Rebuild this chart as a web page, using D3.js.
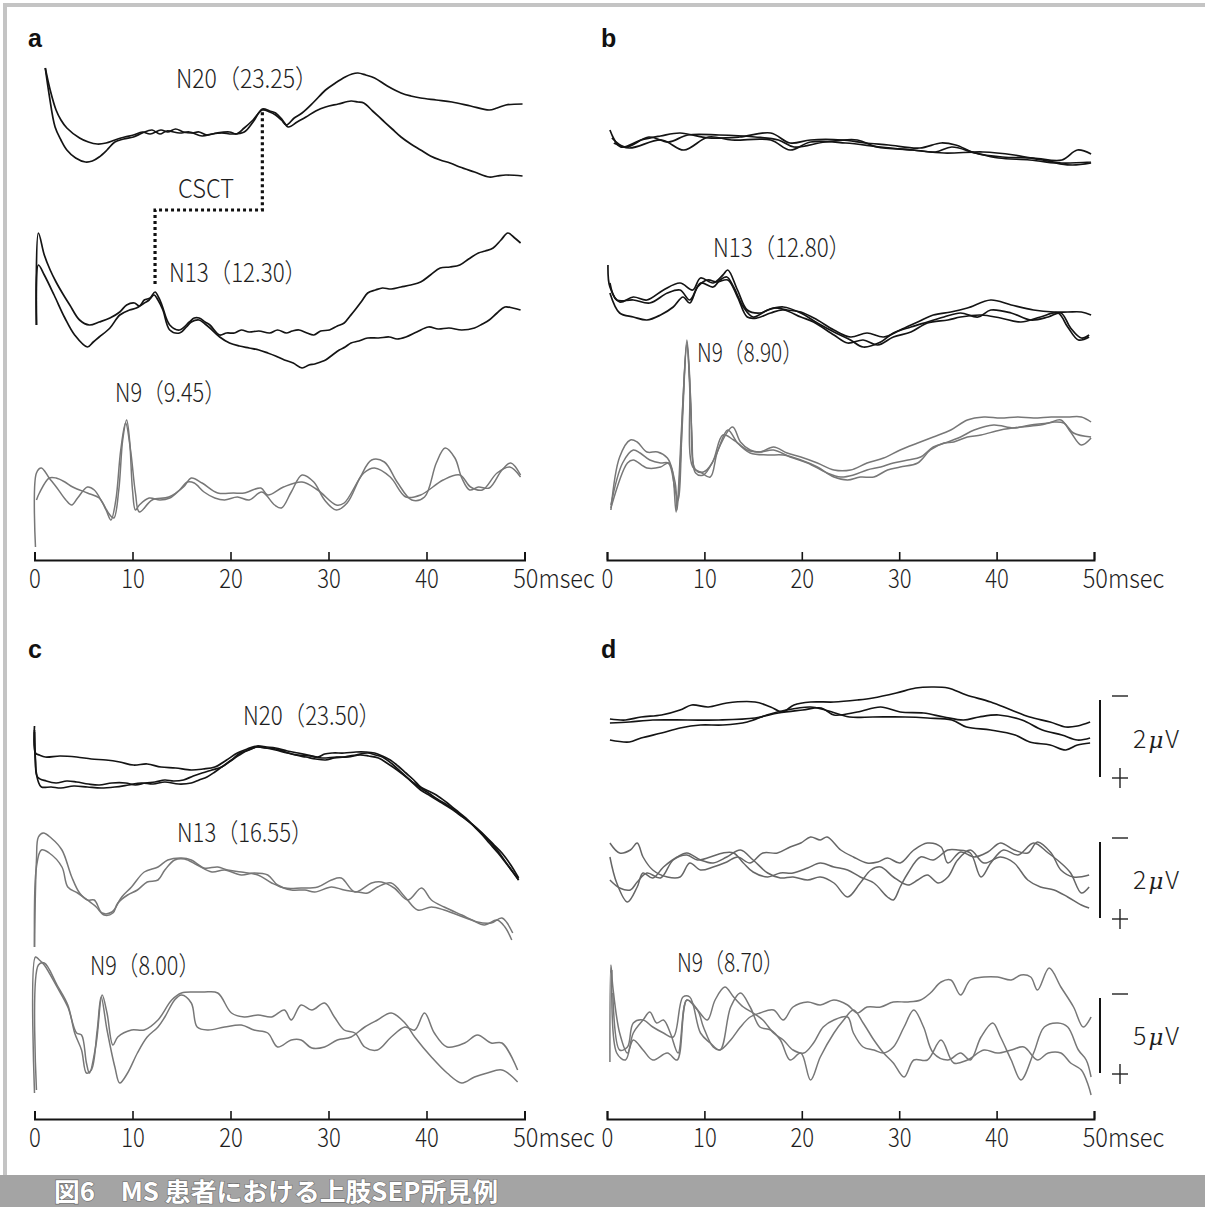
<!DOCTYPE html>
<html>
<head>
<meta charset="utf-8">
<script src="https://cdn.jsdelivr.net/npm/d3@7"></script>
<style>
  body { margin: 0; background: #fff; }
</style>
</head>
<body>
<svg id="fig" width="1205" height="1207"></svg>
<script>
// time axis (msec)
const ticks = [0, 10, 20, 30, 40, 50];
const unitLabel = "msec";

// every trace: [ms, amplitude(a.u., negative polarity up)]
// --- panel a ---
const a_N20_1 = [[1.1,52],[1.6,30],[2.2,10],[2.7,0],[3.3,-8],[4.6,-18],[5.5,-22],[6.4,-24],[7.3,-23],[8.2,-20],[9.2,-17],[10.1,-15],[11.0,-12],[11.8,-14],[12.9,-10],[13.6,-12],[14.4,-9],[15.2,-12],[16.0,-13],[16.8,-12],[17.6,-15],[18.6,-13],[19.9,-12],[20.6,-14],[21.4,-8],[22.3,0],[23.25,10],[24.0,8],[24.6,5],[25.2,0],[25.7,-5],[26.5,2],[27.3,7],[28.5,18],[29.7,30],[30.7,37],[31.7,43],[32.4,46],[33.0,47],[33.8,45],[34.7,42],[36.0,34],[37.4,27],[38.4,24],[39.4,22],[41.0,20],[42.6,18],[44.5,14],[46.4,10],[47.2,12],[48.1,15],[49.8,16]];
const a_N20_2 = [[1.1,52],[1.5,25],[2.1,-7],[2.7,-20],[3.3,-30],[4.2,-38],[5.2,-42],[5.9,-41],[6.6,-37],[7.4,-30],[8.2,-22],[9.1,-19],[10.1,-17],[11.0,-13],[12.0,-10],[12.8,-14],[13.5,-11],[14.8,-13],[15.8,-12],[17.1,-16],[18.1,-14],[19.1,-13],[20.2,-14],[21.4,-12],[22.3,-2],[23.25,11],[24.0,9],[24.6,7],[25.3,0],[25.9,-7],[26.8,-2],[27.7,3],[28.7,9],[29.7,13],[31.0,16],[32.3,19],[33.0,18],[33.6,17],[34.5,9],[35.5,0],[36.5,-9],[37.4,-17],[38.4,-24],[39.4,-30],[40.4,-36],[41.4,-40],[42.4,-43],[43.4,-47],[44.9,-52],[46.4,-57],[47.2,-56],[48.1,-55],[49.8,-56]];
const a_N13_1 = [[0.2,-25],[0.4,67],[1.0,45],[1.6,30],[2.2,18],[2.9,6],[3.6,-5],[4.6,-20],[5.6,-25],[6.6,-22],[7.7,-18],[8.7,-12],[9.4,-5],[10.2,-3],[10.7,-6],[11.2,0],[11.8,2],[12.3,8],[12.7,2],[13.0,-5],[13.8,-25],[14.8,-30],[15.8,-22],[16.3,-18],[16.8,-18],[17.4,-22],[17.9,-25],[18.9,-35],[19.6,-33],[20.4,-33],[21.1,-30],[21.9,-32],[22.9,-31],[24.0,-33],[24.8,-30],[25.7,-33],[26.3,-31],[27.0,-30],[27.8,-33],[28.5,-35],[29.2,-31],[30.1,-30],[30.9,-26],[31.6,-23],[32.2,-16],[32.7,-10],[33.4,-1],[34.0,7],[34.8,10],[35.5,12],[36.4,11],[37.4,13],[38.4,15],[39.4,18],[40.4,25],[41.4,32],[42.4,33],[43.4,35],[44.3,41],[45.3,47],[46.0,49],[46.8,52],[47.6,60],[48.3,67],[49.0,62],[49.6,57]];
const a_N13_2 = [[0.2,-25],[0.4,35],[1.0,25],[2.0,5],[3.1,-18],[4.1,-35],[5.4,-47],[6.0,-42],[6.6,-37],[7.7,-28],[8.7,-15],[9.7,-10],[10.4,-8],[11.2,-3],[11.7,0],[12.2,5],[12.6,0],[13.1,-10],[13.8,-30],[14.8,-33],[15.5,-27],[16.0,-22],[16.8,-20],[17.4,-24],[17.9,-28],[18.9,-37],[19.9,-43],[20.9,-46],[21.9,-48],[22.9,-50],[23.8,-53],[24.6,-56],[25.5,-60],[26.4,-63],[27.3,-68],[28.0,-65],[28.6,-64],[29.2,-62],[29.7,-60],[30.4,-55],[31.1,-50],[31.7,-47],[32.3,-43],[33.1,-41],[34.0,-38],[35.1,-38],[36.2,-37],[37.0,-39],[37.9,-37],[39.0,-32],[40.2,-27],[41.2,-29],[42.3,-28],[43.6,-30],[44.9,-28],[45.7,-24],[46.4,-20],[47.2,-13],[48.0,-7],[48.8,-8],[49.6,-10]];
const a_N9_1 = [[0.1,-57],[0.2,17],[0.7,22],[1.5,12],[2.3,2],[3.2,-10],[3.8,-15],[4.4,-8],[5.4,3],[6.1,0],[6.9,-12],[7.7,-25],[8.1,-28],[8.6,0],[9.0,50],[9.4,70],[9.7,50],[10.0,0],[10.3,-20],[10.7,-15],[11.7,-8],[12.8,-10],[13.8,-8],[14.8,0],[15.6,8],[16.3,7],[17.3,-2],[18.4,-8],[19.4,-10],[20.7,-7],[21.9,-10],[23.2,-2],[24.5,-15],[25.2,-18],[26.2,-2],[27.3,15],[28.5,8],[29.6,-10],[30.8,-20],[31.9,-13],[33.2,12],[34.4,30],[35.7,28],[37.0,8],[38.5,-10],[39.8,-7],[41.0,27],[41.9,42],[42.9,32],[43.6,12],[44.4,0],[45.3,3],[46.4,2],[47.7,20],[48.6,27],[49.6,15]];
const a_N9_2 = [[0.2,-10],[0.5,-3],[1.5,12],[2.2,12],[3.1,8],[3.9,3],[5.4,-3],[6.6,-8],[7.3,-20],[7.8,-30],[8.3,-10],[8.8,40],[9.3,67],[9.8,40],[10.3,-3],[10.7,-22],[12.0,-10],[13.7,-7],[15.2,3],[16.0,12],[17.1,7],[18.7,-3],[20.3,-3],[21.4,-3],[23.1,2],[23.8,-5],[25.4,3],[27.3,8],[28.9,0],[30.8,-15],[31.6,-13],[33.6,17],[34.7,22],[36.3,13],[37.9,-7],[39.4,-5],[41.7,10],[43.4,15],[44.5,3],[45.7,0],[47.2,17],[48.5,23],[49.6,13]];

// --- panel b ---
const b_top_1 = [[0.3,15],[1.4,-2],[3.5,5],[5.5,9],[7.5,12],[10.4,7],[13.6,8],[16.8,12],[18.8,2],[20.9,5],[24.1,5],[26.5,2],[28.9,0],[32.1,-3],[34.3,2],[35.8,0],[37.8,-8],[40.6,-12],[43.8,-13],[46.7,-15],[48.3,-5],[49.7,-9]];
const b_top_2 = [[0.5,7],[1.9,-2],[4.3,8],[6.3,3],[8.3,10],[11.5,10],[15.2,8],[17.6,5],[19.2,-2],[22.4,3],[25.7,5],[27.7,-2],[31.4,-5],[34.6,-8],[38.6,-7],[41.8,-10],[44.7,-15],[46.7,-18],[49.7,-17]];
const b_top_3 = [[0.7,2],[2.3,-3],[5.6,5],[7.9,-5],[10.4,8],[12.8,5],[16.8,5],[18.8,-5],[20.9,3],[24.5,2],[28.1,-2],[31.4,-5],[33.7,-7],[35.4,-2],[37.8,-8],[40.2,-13],[43.4,-15],[45.9,-18],[47.8,-20],[49.7,-18]];
const b_N13_1 = [[0.1,45],[0.3,23],[1.3,8],[2.7,13],[4.1,10],[5.8,20],[7.5,27],[8.8,20],[9.6,32],[10.9,27],[11.9,35],[12.4,40],[13.4,20],[14.4,0],[15.7,-3],[17.1,2],[18.5,0],[19.9,-2],[21.6,-10],[23.3,-20],[25.0,-27],[26.7,-23],[28.4,-27],[30.1,-20],[31.9,-12],[33.5,-5],[35.3,-2],[37.0,2],[39.4,10],[41.5,5],[43.8,0],[45.9,-2],[47.3,-2],[48.7,-2],[49.7,-5]];
const b_N13_2 = [[0.3,27],[1.0,10],[2.7,10],[4.4,7],[6.2,17],[7.5,20],[8.5,10],[9.6,27],[10.9,23],[11.6,30],[12.3,33],[13.0,23],[14.0,3],[15.0,-7],[16.5,0],[18.1,3],[19.9,-3],[21.6,-13],[23.3,-22],[25.0,-30],[26.3,-37],[28.1,-32],[29.4,-23],[31.2,-17],[32.9,-12],[34.6,-7],[36.3,-3],[38.1,-7],[39.4,0],[41.5,-3],[43.5,-10],[45.3,-7],[46.6,-3],[47.6,-18],[48.7,-28],[49.5,-25]];
const b_N13_3 = [[0.3,17],[1.3,-3],[2.7,-7],[4.1,-10],[5.5,-5],[6.8,3],[7.8,13],[8.5,7],[9.3,23],[10.3,30],[11.3,28],[12.4,30],[13.4,13],[14.4,-7],[15.4,-8],[16.8,-3],[18.1,0],[19.9,-7],[21.2,-12],[23.3,-25],[24.7,-33],[26.3,-30],[27.8,-35],[29.4,-27],[31.2,-22],[32.9,-13],[35.0,-10],[36.3,-7],[38.4,-5],[40.4,-8],[42.5,-12],[44.5,-7],[46.3,-3],[47.3,-17],[48.4,-30],[49.5,-27]];
const b_N9_1 = [[0.4,-50],[1.3,3],[2.4,20],[3.1,18],[4.1,8],[5.2,8],[6.2,2],[6.7,-10],[7.1,-52],[7.7,40],[8.2,120],[8.5,80],[8.8,-7],[9.6,-12],[10.6,-17],[11.4,10],[12.9,33],[13.7,18],[14.7,10],[15.7,8],[17.1,13],[18.5,7],[19.9,3],[21.6,-3],[23.3,-10],[25.0,-10],[26.7,-3],[28.4,2],[30.1,10],[31.9,17],[33.5,23],[35.3,30],[37.0,40],[38.7,43],[40.4,42],[42.2,43],[43.8,42],[45.6,43],[47.3,43],[48.7,43],[49.7,38]];
const b_N9_2 = [[0.4,-45],[1.6,-3],[2.7,10],[3.4,7],[4.4,0],[5.5,-3],[6.3,-3],[7.0,-30],[7.3,-40],[7.8,60],[8.2,115],[8.6,60],[9.1,-10],[9.9,-12],[10.8,-3],[11.9,25],[13.0,20],[14.4,10],[15.7,8],[17.1,10],[18.8,3],[20.6,-3],[22.6,-13],[24.0,-17],[25.3,-15],[26.7,-10],[28.1,-7],[29.4,-3],[30.9,0],[32.2,3],[33.5,13],[35.0,18],[36.3,23],[37.7,30],[39.7,35],[41.8,32],[43.5,35],[45.3,37],[46.6,40],[47.6,28],[48.7,15],[49.7,22]];
const b_N9_3 = [[0.4,-48],[2.1,-3],[2.7,0],[4.1,-8],[5.5,-7],[6.3,-3],[7.0,-23],[7.2,-50],[7.7,30],[8.2,118],[8.7,30],[9.1,-13],[9.9,-15],[11.1,3],[12.4,30],[13.4,17],[14.7,7],[16.5,5],[18.1,5],[19.9,0],[21.6,-7],[23.3,-17],[24.7,-20],[26.0,-17],[27.4,-17],[28.8,-10],[30.1,-7],[31.9,-3],[33.2,10],[34.6,17],[35.6,18],[37.0,23],[38.4,25],[40.4,30],[42.5,33],[44.5,35],[45.9,38],[46.9,37],[47.9,27],[49.7,23]];

// --- panel c ---
const c_N20_1 = [[0.0,44],[0.1,17],[0.5,15],[1.1,13],[2.6,14],[4.3,13],[5.8,11],[7.3,10],[8.7,8],[10.1,5],[11.5,6],[12.9,3],[14.4,2],[16.0,0],[17.2,1],[18.4,3],[19.6,10],[20.7,17],[21.7,21],[22.7,24],[23.7,23],[24.6,22],[25.8,19],[26.9,17],[27.9,15],[28.9,13],[29.6,16],[30.4,17],[31.6,17],[32.8,18],[33.8,18],[34.7,17],[35.5,14],[36.3,10],[37.1,4],[37.9,-3],[38.7,-10],[39.4,-17],[40.2,-21],[41.0,-25],[42.0,-32],[43.0,-40],[44.0,-48],[44.9,-57],[45.7,-65],[46.4,-73],[47.3,-83],[48.1,-93],[48.8,-102],[49.4,-110]];
const c_N20_2 = [[0.0,40],[0.1,10],[0.3,-7],[1.2,-11],[2.2,-13],[3.3,-11],[4.3,-12],[5.5,-14],[6.6,-15],[7.9,-13],[9.3,-13],[10.3,-15],[11.3,-13],[12.3,-12],[13.3,-10],[14.2,-11],[15.2,-10],[16.2,-6],[17.1,-3],[18.1,0],[19.1,3],[20.0,9],[20.9,15],[21.8,20],[22.7,23],[23.6,22],[24.6,20],[25.8,17],[26.9,15],[28.1,14],[29.3,12],[30.8,13],[32.0,13],[33.2,15],[34.1,14],[35.1,12],[36.1,6],[37.0,0],[37.8,-6],[38.7,-13],[39.4,-18],[40.2,-23],[41.1,-29],[42.1,-35],[43.1,-42],[44.1,-50],[45.1,-58],[46.1,-67],[46.9,-75],[47.7,-83],[48.6,-95],[49.4,-108]];
const c_N20_3 = [[0.0,38],[0.15,0],[0.4,-12],[0.7,-17],[1.7,-17],[2.7,-18],[4.0,-16],[5.4,-17],[6.8,-18],[8.2,-17],[9.6,-15],[10.9,-13],[12.1,-14],[13.3,-12],[14.7,-14],[16.0,-13],[16.8,-10],[17.6,-7],[18.4,-2],[19.1,3],[20.1,10],[21.0,17],[21.9,20],[22.7,23],[23.6,22],[24.6,21],[25.6,18],[26.6,15],[27.7,13],[28.7,11],[29.7,10],[30.6,12],[31.6,13],[32.8,15],[34.0,17],[34.8,15],[35.5,13],[36.5,6],[37.4,-2],[38.4,-11],[39.4,-20],[40.4,-26],[41.4,-32],[42.4,-38],[43.4,-45],[44.4,-52],[45.3,-60],[46.3,-70],[47.2,-80],[48.3,-95],[49.4,-110]];
const c_N13_1 = [[0.0,-67],[0.2,20],[0.4,43],[0.9,47],[1.7,42],[2.8,30],[3.8,3],[4.6,-13],[5.4,-20],[6.1,-20],[6.9,-33],[7.9,-32],[8.9,-17],[9.9,-7],[11.2,8],[12.6,13],[13.6,20],[15.0,22],[16.0,20],[17.3,12],[18.7,13],[19.7,10],[21.1,8],[22.8,5],[24.2,-3],[25.5,-8],[27.2,-8],[28.9,-7],[30.3,0],[31.3,2],[32.7,-12],[34.4,-3],[35.4,-2],[36.7,-8],[38.1,-20],[39.5,-8],[40.5,-20],[41.8,-27],[43.6,-35],[45.2,-42],[46.6,-43],[47.7,-38],[48.8,-53]];
const c_N13_2 = [[0.0,-67],[0.2,13],[0.7,30],[1.5,27],[2.8,13],[3.4,-7],[4.4,-13],[5.4,-20],[6.3,-27],[7.1,-35],[8.0,-33],[8.5,-23],[9.5,-15],[10.5,-10],[11.5,-2],[12.6,0],[13.3,10],[14.3,20],[15.3,21],[16.6,15],[18.1,8],[19.4,10],[21.1,5],[22.4,7],[23.8,5],[24.8,-5],[26.2,-10],[27.6,-10],[28.6,-12],[30.3,-7],[31.6,-10],[33.0,-12],[34.0,-13],[35.0,-7],[36.4,-3],[37.8,-17],[39.1,-30],[40.5,-27],[41.8,-30],[43.2,-35],[44.6,-40],[45.9,-45],[47.2,-40],[48.0,-47],[48.7,-60]];
const c_N9_1 = [[0.0,-63],[0.1,73],[0.5,70],[1.0,65],[2.3,43],[3.4,23],[4.3,-3],[4.8,-5],[5.3,-33],[5.6,-43],[6.3,-13],[6.9,35],[7.4,17],[8.0,-15],[8.5,-7],[9.9,0],[11.2,0],[12.6,10],[14.0,30],[15.0,37],[16.3,38],[17.3,38],[18.7,37],[20.1,17],[21.4,13],[22.8,15],[24.2,13],[25.5,20],[26.2,10],[27.2,25],[28.3,20],[29.6,27],[30.6,13],[31.6,0],[32.7,-3],[33.7,-17],[35.0,-20],[36.4,-7],[37.8,3],[38.8,0],[39.8,17],[40.8,-3],[42.1,-17],[43.9,-13],[45.2,-5],[46.6,-13],[47.7,-13],[49.3,-40]];
const c_N9_2 = [[0.2,-60],[0.4,65],[1.0,67],[2.3,45],[3.4,25],[4.1,-3],[4.8,-20],[5.3,-43],[5.8,-40],[6.4,0],[6.8,33],[7.4,0],[8.2,-37],[8.7,-53],[9.5,-43],[10.5,-23],[11.5,-7],[12.6,3],[13.3,13],[14.3,30],[15.0,35],[16.0,27],[16.6,3],[17.7,0],[19.4,3],[21.1,5],[22.4,0],[23.8,-3],[24.8,-17],[26.2,-10],[27.2,-10],[28.3,-18],[29.6,-17],[30.9,-10],[32.3,-7],[33.7,3],[35.0,10],[36.4,17],[37.8,7],[38.8,-7],[40.5,-27],[42.1,-43],[43.6,-53],[44.9,-47],[46.2,-43],[47.7,-40],[49.3,-52]];

// --- panel d ---
const d_top_1 = [[0.3,1],[1.9,0],[3.5,3],[5.6,5],[7.5,10],[8.7,15],[10.4,13],[12.3,17],[15.2,18],[16.8,13],[18.0,8],[19.2,15],[20.9,18],[23.3,18],[25.7,20],[27.3,22],[29.7,27],[31.7,32],[33.3,33],[35.0,32],[36.9,25],[39.4,18],[41.5,10],[43.4,3],[45.5,-2],[47.1,-7],[48.3,-6],[49.6,-2]];
const d_top_2 = [[0.3,-3],[2.3,-2],[4.7,0],[8.3,0],[11.5,0],[15.2,2],[17.6,7],[20.1,10],[22.0,12],[23.3,5],[25.7,8],[28.1,13],[30.1,8],[32.5,7],[34.6,3],[36.6,0],[38.2,3],[40.2,5],[42.6,0],[44.7,-10],[46.7,-15],[48.3,-20],[49.6,-18]];
const d_top_3 = [[0.3,-20],[2.3,-22],[3.5,-18],[5.6,-13],[7.5,-8],[9.6,-5],[11.9,-5],[14.4,-2],[16.4,5],[18.4,10],[20.9,13],[22.4,10],[24.9,3],[27.3,3],[30.6,3],[32.9,2],[35.4,0],[36.9,-7],[39.4,-10],[41.9,-15],[43.4,-22],[45.5,-25],[47.1,-30],[48.3,-25],[49.6,-23]];
const d_mid_1 = [[0.3,22],[1.3,12],[2.4,15],[3.1,22],[3.7,8],[4.7,-5],[6.2,-12],[7.5,-12],[8.5,2],[9.6,-5],[10.9,-2],[12.3,3],[13.4,8],[14.7,2],[16.0,12],[17.5,12],[18.8,18],[19.9,22],[20.9,28],[21.9,25],[22.6,28],[24.0,15],[25.3,8],[26.7,2],[27.8,3],[28.8,7],[30.1,2],[31.5,15],[32.9,22],[34.3,18],[35.0,2],[36.3,13],[37.7,8],[39.1,13],[40.4,22],[41.8,15],[43.2,12],[44.2,23],[45.6,12],[46.6,-5],[47.9,-12],[49.5,-10]];
const d_mid_2 = [[0.3,8],[1.0,-18],[2.1,-37],[3.1,-22],[3.7,-8],[4.7,-13],[5.8,-2],[7.2,8],[8.2,12],[9.6,5],[10.9,2],[12.3,8],[13.7,15],[15.0,5],[16.5,-8],[17.8,-13],[19.1,-12],[20.6,-15],[21.9,-12],[23.3,-18],[24.7,-32],[26.0,-18],[27.1,-5],[28.1,-2],[29.4,-12],[30.9,-20],[31.9,-15],[32.9,-10],[34.0,-18],[35.0,-12],[36.0,5],[37.3,15],[38.7,2],[40.4,8],[41.8,2],[43.2,-15],[44.5,-22],[45.9,-25],[47.3,-32],[48.7,-40],[49.5,-43]];
const d_mid_3 = [[0.3,-15],[1.3,-23],[2.4,-25],[3.1,-17],[4.1,-8],[5.5,-13],[6.8,5],[8.2,10],[9.3,5],[10.6,8],[11.9,12],[13.0,12],[14.0,2],[15.0,-7],[16.5,-12],[17.8,-8],[19.1,-8],[20.6,-3],[21.9,2],[23.3,-2],[24.7,-5],[26.0,-12],[27.4,-18],[28.8,-32],[29.4,-35],[30.1,-22],[30.9,-8],[32.2,8],[33.5,5],[35.0,15],[36.0,15],[37.3,12],[38.4,-12],[39.4,2],[40.7,15],[42.2,10],[43.8,22],[45.3,12],[46.6,2],[47.6,-8],[48.7,-28],[49.5,-22]];
const d_N9_1 = [[0.3,-32],[0.4,65],[0.6,43],[1.3,-3],[2.1,-23],[2.7,-10],[3.7,-20],[4.7,-30],[6.2,-23],[7.2,-30],[8.2,30],[9.3,20],[9.9,3],[10.9,-17],[11.6,-20],[12.7,-10],[13.7,3],[14.7,13],[15.7,17],[17.1,20],[18.1,10],[19.1,23],[20.6,28],[21.9,25],[23.3,30],[24.7,25],[25.7,17],[26.7,23],[28.1,23],[29.4,28],[30.9,28],[32.2,30],[33.2,37],[34.3,48],[35.3,50],[36.3,35],[37.3,50],[38.7,53],[40.1,53],[41.5,50],[42.5,55],[43.5,53],[44.2,40],[45.4,62],[46.6,43],[47.9,23],[48.9,3],[49.7,13]];
const d_N9_2 = [[0.5,60],[1.0,-23],[1.9,-30],[2.7,-3],[3.7,10],[4.4,18],[5.1,7],[5.8,10],[6.5,-3],[7.3,-23],[8.2,30],[9.3,20],[10.3,10],[11.1,30],[12.1,43],[13.0,33],[14.0,23],[15.0,17],[16.0,10],[17.1,-3],[18.1,-10],[19.1,-20],[20.2,-23],[21.2,-13],[22.2,3],[23.3,10],[24.7,13],[25.3,-3],[26.3,-17],[27.4,-20],[28.4,-23],[29.4,-17],[30.5,3],[31.5,20],[32.5,3],[33.5,-23],[35.0,-30],[36.3,-23],[37.3,-30],[38.4,-7],[39.6,7],[40.4,-7],[41.5,-30],[42.5,-50],[43.8,-23],[44.9,3],[46.3,7],[47.3,3],[48.4,-20],[49.2,-30],[49.7,-47]];
const d_N9_3 = [[0.6,37],[1.3,-20],[2.1,-17],[2.7,7],[3.7,10],[4.7,3],[5.8,-3],[6.8,-7],[7.8,33],[8.5,33],[9.6,-3],[10.6,-13],[11.6,-20],[12.7,23],[13.7,37],[14.7,23],[15.7,3],[16.8,0],[17.8,-10],[18.8,-30],[19.9,-23],[20.9,-50],[21.9,-27],[23.3,-3],[24.3,10],[25.3,20],[26.3,7],[27.4,-10],[28.4,-23],[29.4,-33],[30.5,-47],[31.5,-30],[32.9,-30],[34.3,-10],[35.6,-33],[37.0,-30],[38.7,-20],[40.1,-23],[41.5,-20],[42.8,-17],[44.2,-30],[45.3,-23],[46.6,-23],[47.6,-33],[48.7,-40],[49.4,-55],[49.7,-65]];

// annotations
const labelsA = ["N20（23.25）", "N13（12.30）", "N9（9.45）", "CSCT"];
const labelsB = ["N13（12.80）", "N9（8.90）"];
const labelsC = ["N20（23.50）", "N13（16.55）", "N9（8.00）"];
const labelsD = ["N9（8.70）"];
const scaleBarUV = [2, 2, 5];
const scaleBarAU = [[20, -57], [23, -53], [32, -43]];   // top / bottom of bar in row units
const csct = {t0: 12.3, t1: 23.25, v0: 16, level: -90, v1: 8};
const caption = "図6　MS 患者における上肢SEP所見例";

const BLACK = "#141414", GREY = "#777";
const JP = "'Noto Sans CJK JP','Noto Sans',sans-serif";
const DIGIT_W = 11.8;

const panels = [
  {letter: "a", lx: 28, ly: 47, xr: [34.5, 524.5], axisY: 560,
   rows: [{base: 120, traces: [a_N20_1, a_N20_2], color: BLACK},
          {base: 300, traces: [a_N13_1, a_N13_2], color: BLACK},
          {base: 490, traces: [a_N9_1, a_N9_2], color: GREY}],
   labels: [{t: labelsA[0], x: 176, y: 88, w: 142},
            {t: labelsA[1], x: 169, y: 282, w: 138},
            {t: labelsA[2], x: 115, y: 402, w: 111},
            {t: labelsA[3], x: 178, y: 198, w: 56}]},
  {letter: "b", lx: 601, ly: 47, xr: [607, 1094], axisY: 560,
   rows: [{base: 145, traces: [b_top_1, b_top_2, b_top_3], color: BLACK},
          {base: 310, traces: [b_N13_1, b_N13_2, b_N13_3], color: BLACK},
          {base: 460, traces: [b_N9_1, b_N9_2, b_N9_3], color: GREY}],
   labels: [{t: labelsB[0], x: 713, y: 257, w: 138},
            {t: labelsB[1], x: 697, y: 362, w: 106}]},
  {letter: "c", lx: 28, ly: 658, xr: [34.5, 524.5], axisY: 1119,
   rows: [{base: 770, traces: [c_N20_1, c_N20_2, c_N20_3], color: BLACK},
          {base: 880, traces: [c_N13_1, c_N13_2], color: GREY},
          {base: 1030, traces: [c_N9_1, c_N9_2], color: GREY}],
   labels: [{t: labelsC[0], x: 243, y: 725, w: 138},
            {t: labelsC[1], x: 177, y: 842, w: 136},
            {t: labelsC[2], x: 90, y: 975, w: 110}]},
  {letter: "d", lx: 601, ly: 658, xr: [607, 1094], axisY: 1119,
   rows: [{base: 720, traces: [d_top_1, d_top_2, d_top_3], color: BLACK},
          {base: 865, traces: [d_mid_1, d_mid_2, d_mid_3], color: "#666"},
          {base: 1030, traces: [d_N9_1, d_N9_2, d_N9_3], color: GREY}],
   labels: [{t: labelsD[0], x: 677, y: 972, w: 107}],
   bars: true}
];

const svg = d3.select("#fig");
svg.append("rect").attr("width", 1205).attr("height", 1207).attr("fill", "#fff");

// frame of the figure
svg.append("line").attr("x1", 3).attr("x2", 1205).attr("y1", 5).attr("y2", 5)
  .attr("stroke", "#c4c4c4").attr("stroke-width", 4);
svg.append("line").attr("x1", 5).attr("x2", 5).attr("y1", 3).attr("y2", 1176)
  .attr("stroke", "#c4c4c4").attr("stroke-width", 4);

panels.forEach(p => {
  const x = d3.scaleLinear().domain([0, 50]).range(p.xr);
  const yScales = [];

  p.rows.forEach(r => {
    const y = d3.scaleLinear().domain([-100, 100]).range([r.base + 100, r.base - 100]);
    yScales.push(y);
    const line = d3.line()
      .x(d => x(d[0]))
      .y(d => y(d[1]))
      .curve(d3.curveCatmullRom.alpha(0.5));
    svg.append("g").selectAll("path")
      .data(r.traces)
      .enter().append("path")
        .attr("d", line)
        .attr("fill", "none")
        .attr("stroke", r.color)
        .attr("stroke-width", r.color == BLACK ? 1.7 : 1.5)
        .attr("stroke-linejoin", "round");
  });

  // time axis, ticks pointing up; last label carries the unit
  const last = ticks[ticks.length - 1];
  const axis = d3.axisBottom(x).tickValues(ticks).tickSize(-8).tickSizeOuter(-8)
    .tickFormat(d => d == last ? d + unitLabel : String(d));
  const g = svg.append("g").attr("transform", `translate(0,${p.axisY})`).call(axis);
  g.select(".domain").attr("stroke", BLACK).attr("stroke-width", 2);
  g.selectAll(".tick line").attr("stroke", BLACK).attr("stroke-width", 1.6);
  g.selectAll(".tick text")
    .attr("y", 28).attr("dy", null)
    .attr("font-family", JP).attr("font-size", 26).attr("font-weight", 300)
    .attr("fill", "#1e1e1e")
    .attr("text-anchor", d => d == last ? "start" : "middle")
    .attr("x", d => d == last ? -String(d).length * DIGIT_W / 2 : 0)
    .attr("textLength", d => d == last ? String(d).length * DIGIT_W + 58 : String(d).length * DIGIT_W)
    .attr("lengthAdjust", "spacingAndGlyphs");

  // panel letter
  svg.append("text").attr("x", p.lx).attr("y", p.ly)
    .attr("font-family", "'Liberation Sans',Arial,sans-serif")
    .attr("font-weight", "bold").attr("font-size", 25).attr("fill", "#111")
    .text(p.letter);

  // peak labels
  p.labels.forEach(l => {
    svg.append("text").attr("x", l.x).attr("y", l.y)
      .attr("font-family", JP).attr("font-size", 26).attr("font-weight", 300)
      .attr("fill", "#1e1e1e")
      .attr("textLength", l.w).attr("lengthAdjust", "spacingAndGlyphs")
      .text(l.t);
  });

  // CSCT dotted step (panel a)
  if (p.letter == "a") {
    const y1 = yScales[0], y2 = yScales[1];
    const pts = [[x(csct.t0), y2(csct.v0)], [x(csct.t0), y1(csct.level)],
                 [x(csct.t1), y1(csct.level)], [x(csct.t1), y1(csct.v1)]];
    svg.append("path").attr("d", d3.line()(pts))
      .attr("fill", "none").attr("stroke", "#111").attr("stroke-width", 3.2)
      .attr("stroke-dasharray", "3,3");
  }

  // amplitude bars (panel d)
  if (p.bars) {
    const bx = x(50) + 6;
    p.rows.forEach((r, i) => {
      const y = yScales[i];
      const top = y(scaleBarAU[i][0]), bot = y(scaleBarAU[i][1]);
      svg.append("line").attr("x1", bx).attr("x2", bx).attr("y1", top).attr("y2", bot)
        .attr("stroke", BLACK).attr("stroke-width", 2);
      svg.append("line").attr("x1", bx + 12).attr("x2", bx + 28).attr("y1", top - 4).attr("y2", top - 4)
        .attr("stroke", "#222").attr("stroke-width", 1.4);
      svg.append("line").attr("x1", bx + 12).attr("x2", bx + 28).attr("y1", bot + 1).attr("y2", bot + 1)
        .attr("stroke", "#222").attr("stroke-width", 1.4);
      svg.append("line").attr("x1", bx + 20).attr("x2", bx + 20).attr("y1", bot - 9).attr("y2", bot + 11)
        .attr("stroke", "#222").attr("stroke-width", 1.4);
      const t = svg.append("text").attr("x", bx + 33).attr("y", (top + bot) / 2 + 9)
        .attr("font-family", JP).attr("font-size", 25).attr("font-weight", 300)
        .attr("fill", "#1e1e1e").attr("letter-spacing", 2);
      t.append("tspan").text(scaleBarUV[i]);
      t.append("tspan").attr("font-style", "italic").attr("font-family", "'DejaVu Serif',serif").attr("font-size", 23).text("μ");
      t.append("tspan").text("V");
    });
  }
});

// caption bar
svg.append("rect").attr("x", 0).attr("y", 1175).attr("width", 1205).attr("height", 32)
  .attr("fill", "#a4a4a4");
svg.append("text").attr("x", 54).attr("y", 1201)
  .attr("font-family", JP).attr("font-weight", "bold").attr("font-size", 25)
  .attr("fill", "#fff").attr("stroke", "#6e6e6e").attr("stroke-width", 1.2)
  .attr("paint-order", "stroke")
  .attr("textLength", 444).attr("lengthAdjust", "spacingAndGlyphs")
  .text(caption);
</script>
</body>
</html>
